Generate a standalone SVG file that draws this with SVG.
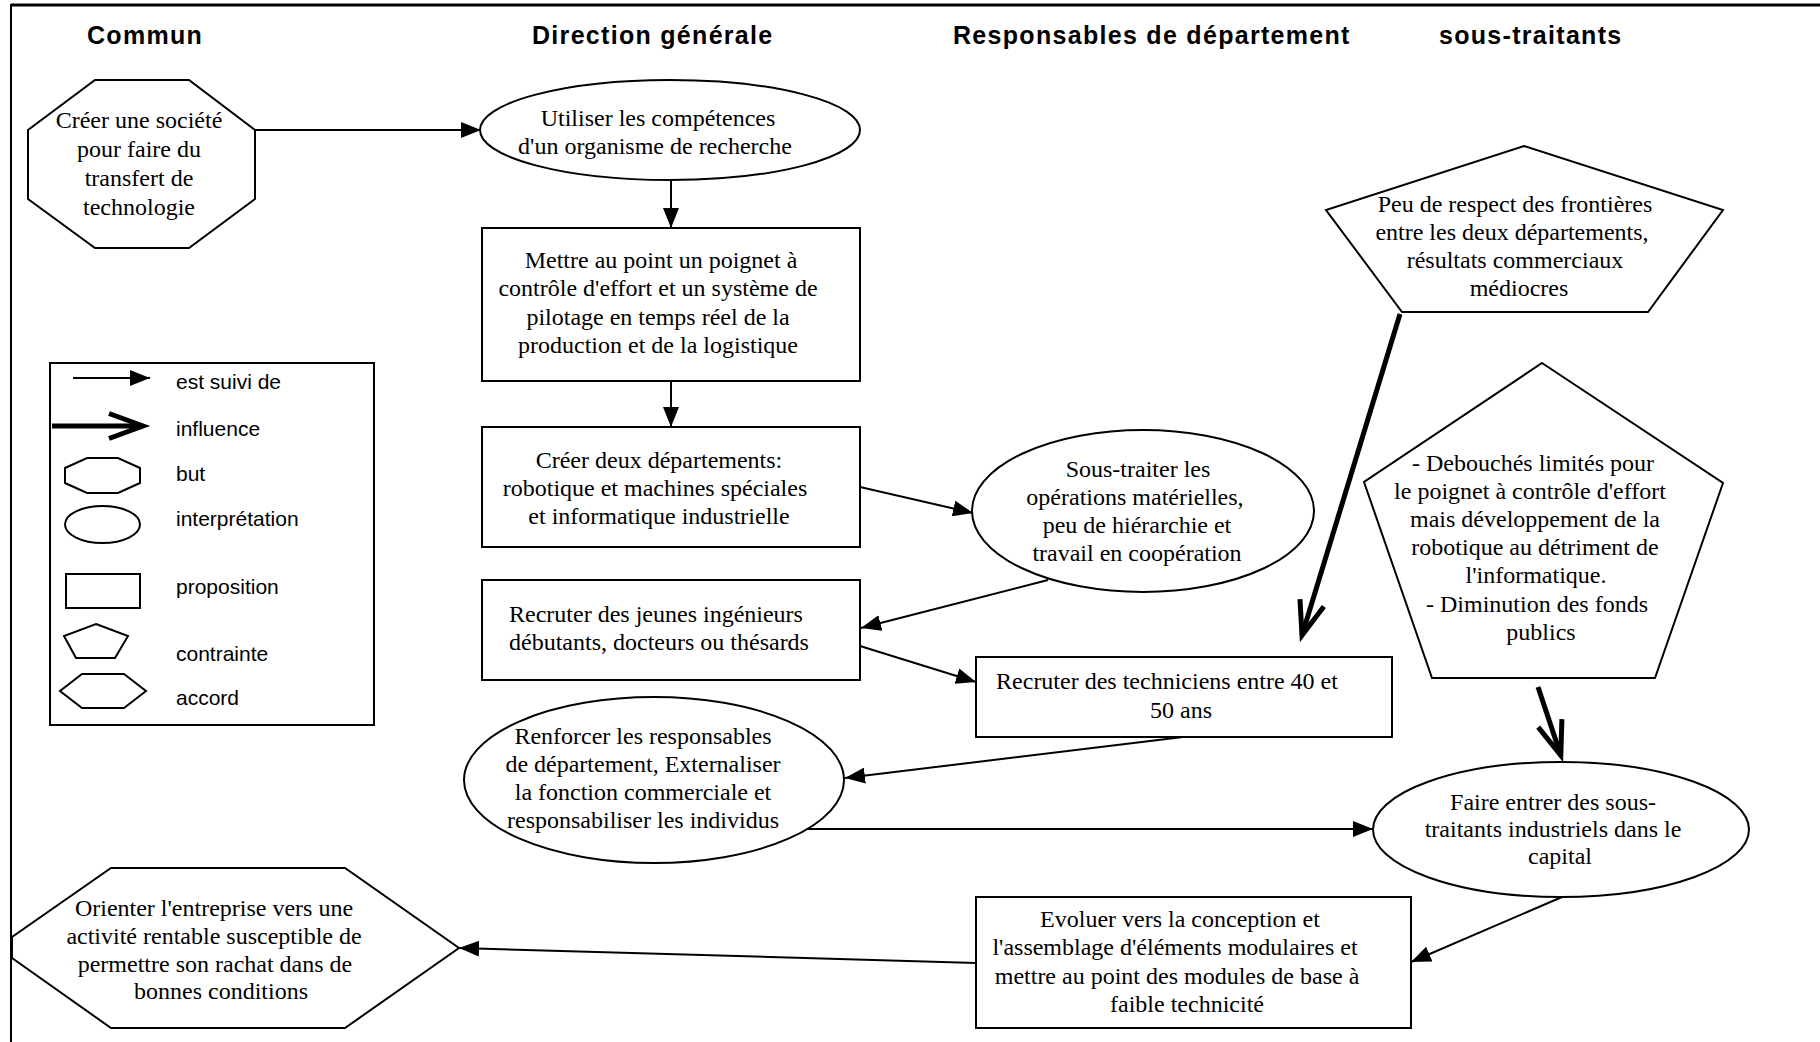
<svg xmlns="http://www.w3.org/2000/svg" width="1820" height="1042" viewBox="0 0 1820 1042">
<defs>
<style>
.shape{fill:#fff;stroke:#000;stroke-width:2}
.t{font-family:"Liberation Serif","Times New Roman",serif;font-size:24px;fill:#000;text-anchor:middle}
.h{font-family:"Liberation Sans",Arial,sans-serif;font-size:25px;font-weight:bold;letter-spacing:1.3px;fill:#000}
.lg{font-family:"Liberation Sans",Arial,sans-serif;font-size:21px;fill:#000}
.c{fill:none;stroke:#000;stroke-width:2}
.ci{fill:none;stroke:#000;stroke-width:5}
</style>
<marker id="arr" markerUnits="userSpaceOnUse" viewBox="0 0 20 16" refX="20" refY="8" markerWidth="20" markerHeight="16" orient="auto">
<path d="M0,0 L20,8 L0,16 z" fill="#000"/>
</marker>
<marker id="inf" markerUnits="userSpaceOnUse" viewBox="-44 -20 54 40" refX="0" refY="0" markerWidth="54" markerHeight="40" orient="auto" overflow="visible">
<path d="M-34,-12.5 L0,0 L-34,12.5" fill="none" stroke="#000" stroke-width="5" stroke-linejoin="miter" stroke-miterlimit="10"/>
</marker>
</defs>
<rect x="0" y="0" width="1820" height="1042" fill="#fff"/>

<g id="frame">
<line x1="11" y1="5" x2="1820" y2="5" stroke="#000" stroke-width="3"/>
<line x1="11" y1="4" x2="11" y2="1042" stroke="#000" stroke-width="2"/>
</g>

<g id="headers">
<text class="h" x="87" y="44">Commun</text>
<text class="h" x="532" y="44">Direction générale</text>
<text class="h" x="953" y="44">Responsables de département</text>
<text class="h" x="1439" y="44">sous-traitants</text>
</g>

<g id="n-creer-societe">
<polygon class="shape" points="95,80 189,80 255,130 255,199 189,248 95,248 28,199 28,130"/>
<text class="t" x="139" y="128">Créer une société</text>
<text class="t" x="139" y="157">pour faire du</text>
<text class="t" x="139" y="186">transfert de</text>
<text class="t" x="139" y="215">technologie</text>
</g>

<g id="n-utiliser">
<ellipse class="shape" cx="670" cy="130" rx="190" ry="50"/>
<text class="t" x="658" y="126">Utiliser les compétences</text>
<text class="t" x="655" y="154">d'un organisme de recherche</text>
</g>

<g id="n-mettre-au-point">
<rect class="shape" x="482" y="228" width="378" height="153"/>
<text class="t" x="661" y="268">Mettre au point un poignet à</text>
<text class="t" x="658" y="296">contrôle d'effort et un système de</text>
<text class="t" x="658" y="325">pilotage en temps réel de la</text>
<text class="t" x="658" y="353">production et de la logistique</text>
</g>

<g id="n-creer-departements">
<rect class="shape" x="482" y="427" width="378" height="120"/>
<text class="t" x="659" y="468">Créer deux départements:</text>
<text class="t" x="655" y="496">robotique et machines spéciales</text>
<text class="t" x="659" y="524">et informatique industrielle</text>
</g>

<g id="n-sous-traiter">
<ellipse class="shape" cx="1143" cy="511" rx="171" ry="81"/>
<text class="t" x="1138" y="477">Sous-traiter les</text>
<text class="t" x="1135" y="505">opérations matérielles,</text>
<text class="t" x="1137" y="533">peu de hiérarchie et</text>
<text class="t" x="1137" y="561">travail en coopération</text>
</g>

<g id="n-jeunes">
<rect class="shape" x="482" y="580" width="378" height="100"/>
<text class="t" x="656" y="622">Recruter des jeunes ingénieurs</text>
<text class="t" x="659" y="650">débutants, docteurs ou thésards</text>
</g>

<g id="n-techniciens">
<rect class="shape" x="976" y="657" width="416" height="80"/>
<text class="t" x="1167" y="689">Recruter des techniciens entre 40 et</text>
<text class="t" x="1181" y="718">50 ans</text>
</g>

<g id="n-peu-de-respect">
<polygon class="shape" points="1524,146 1723,210 1648,312 1402,312 1326,210"/>
<text class="t" x="1515" y="212">Peu de respect des frontières</text>
<text class="t" x="1512" y="240">entre les deux départements,</text>
<text class="t" x="1515" y="268">résultats commerciaux</text>
<text class="t" x="1519" y="296">médiocres</text>
</g>

<g id="n-debouches">
<polygon class="shape" points="1542,363 1723,483 1655,678 1432,678 1364,482"/>
<text class="t" x="1533" y="471">- Debouchés limités pour</text>
<text class="t" x="1530" y="499">le poignet à contrôle d'effort</text>
<text class="t" x="1535" y="527">mais développement de la</text>
<text class="t" x="1535" y="555">robotique au détriment de</text>
<text class="t" x="1536" y="583">l'informatique.</text>
<text class="t" x="1537" y="612">- Diminution des fonds</text>
<text class="t" x="1541" y="640">publics</text>
</g>

<g id="n-renforcer">
<ellipse class="shape" cx="654" cy="780" rx="190" ry="83"/>
<text class="t" x="643" y="744">Renforcer les responsables</text>
<text class="t" x="643" y="772">de département, Externaliser</text>
<text class="t" x="643" y="800">la fonction commerciale et</text>
<text class="t" x="643" y="828">responsabiliser les individus</text>
</g>

<g id="n-faire-entrer">
<ellipse class="shape" cx="1561" cy="829.5" rx="188" ry="67.5"/>
<text class="t" x="1553" y="810">Faire entrer des sous-</text>
<text class="t" x="1553" y="837">traitants industriels dans le</text>
<text class="t" x="1560" y="864">capital</text>
</g>

<g id="n-evoluer">
<rect class="shape" x="976" y="897" width="435" height="131"/>
<text class="t" x="1180" y="927">Evoluer vers la conception et</text>
<text class="t" x="1175" y="955">l'assemblage d'éléments modulaires et</text>
<text class="t" x="1177" y="984">mettre au point des modules de base à</text>
<text class="t" x="1187" y="1012">faible technicité</text>
</g>

<g id="n-orienter">
<polygon class="shape" points="111,868 345,868 459,948 345,1028 111,1028 12,958 12,937"/>
<text class="t" x="214" y="916">Orienter l'entreprise vers une</text>
<text class="t" x="214" y="944">activité rentable susceptible de</text>
<text class="t" x="215" y="972">permettre son rachat dans de</text>
<text class="t" x="221" y="999">bonnes conditions</text>
</g>

<g id="connectors">
<line class="c" x1="255" y1="130" x2="481" y2="130" marker-end="url(#arr)"/>
<line class="c" x1="671" y1="180" x2="671" y2="228" marker-end="url(#arr)"/>
<line class="c" x1="671" y1="381" x2="671" y2="427" marker-end="url(#arr)"/>
<line class="c" x1="860" y1="487" x2="973" y2="513" marker-end="url(#arr)"/>
<line class="c" x1="1048" y1="580" x2="861" y2="628" marker-end="url(#arr)"/>
<line class="c" x1="860" y1="646" x2="976" y2="682" marker-end="url(#arr)"/>
<line class="c" x1="1183" y1="737" x2="845" y2="778" marker-end="url(#arr)"/>
<line class="c" x1="807" y1="829" x2="1373" y2="829" marker-end="url(#arr)"/>
<line class="c" x1="1562" y1="897" x2="1411" y2="962" marker-end="url(#arr)"/>
<line class="c" x1="976" y1="963" x2="459" y2="948" marker-end="url(#arr)"/>
<line class="ci" x1="1400" y1="314" x2="1302" y2="635.3" marker-end="url(#inf)"/>
<line class="ci" x1="1538" y1="687" x2="1560.8" y2="755.4" marker-end="url(#inf)"/>
</g>

<g id="legend">
<rect class="shape" x="50" y="363" width="324" height="362"/>
<line class="c" x1="73" y1="378" x2="150" y2="378" marker-end="url(#arr)"/>
<text class="lg" x="176" y="389">est suivi de</text>
<line class="ci" x1="52" y1="426" x2="143" y2="426" marker-end="url(#inf)"/>
<text class="lg" x="176" y="436">influence</text>
<polygon class="shape" points="87,458 118,458 140,468 140,483 118,493 87,493 65,483 65,468"/>
<text class="lg" x="176" y="481">but</text>
<ellipse class="shape" cx="102.5" cy="524.5" rx="37.5" ry="18.5"/>
<text class="lg" x="176" y="526">interprétation</text>
<rect class="shape" x="66" y="574" width="74" height="34"/>
<text class="lg" x="176" y="594">proposition</text>
<polygon class="shape" points="96,624 128,636 115,658 76,658 64,636"/>
<text class="lg" x="176" y="661">contrainte</text>
<polygon class="shape" points="82,674 124,674 146,691 124,708 82,708 60,691"/>
<text class="lg" x="176" y="705">accord</text>
</g>
</svg>
